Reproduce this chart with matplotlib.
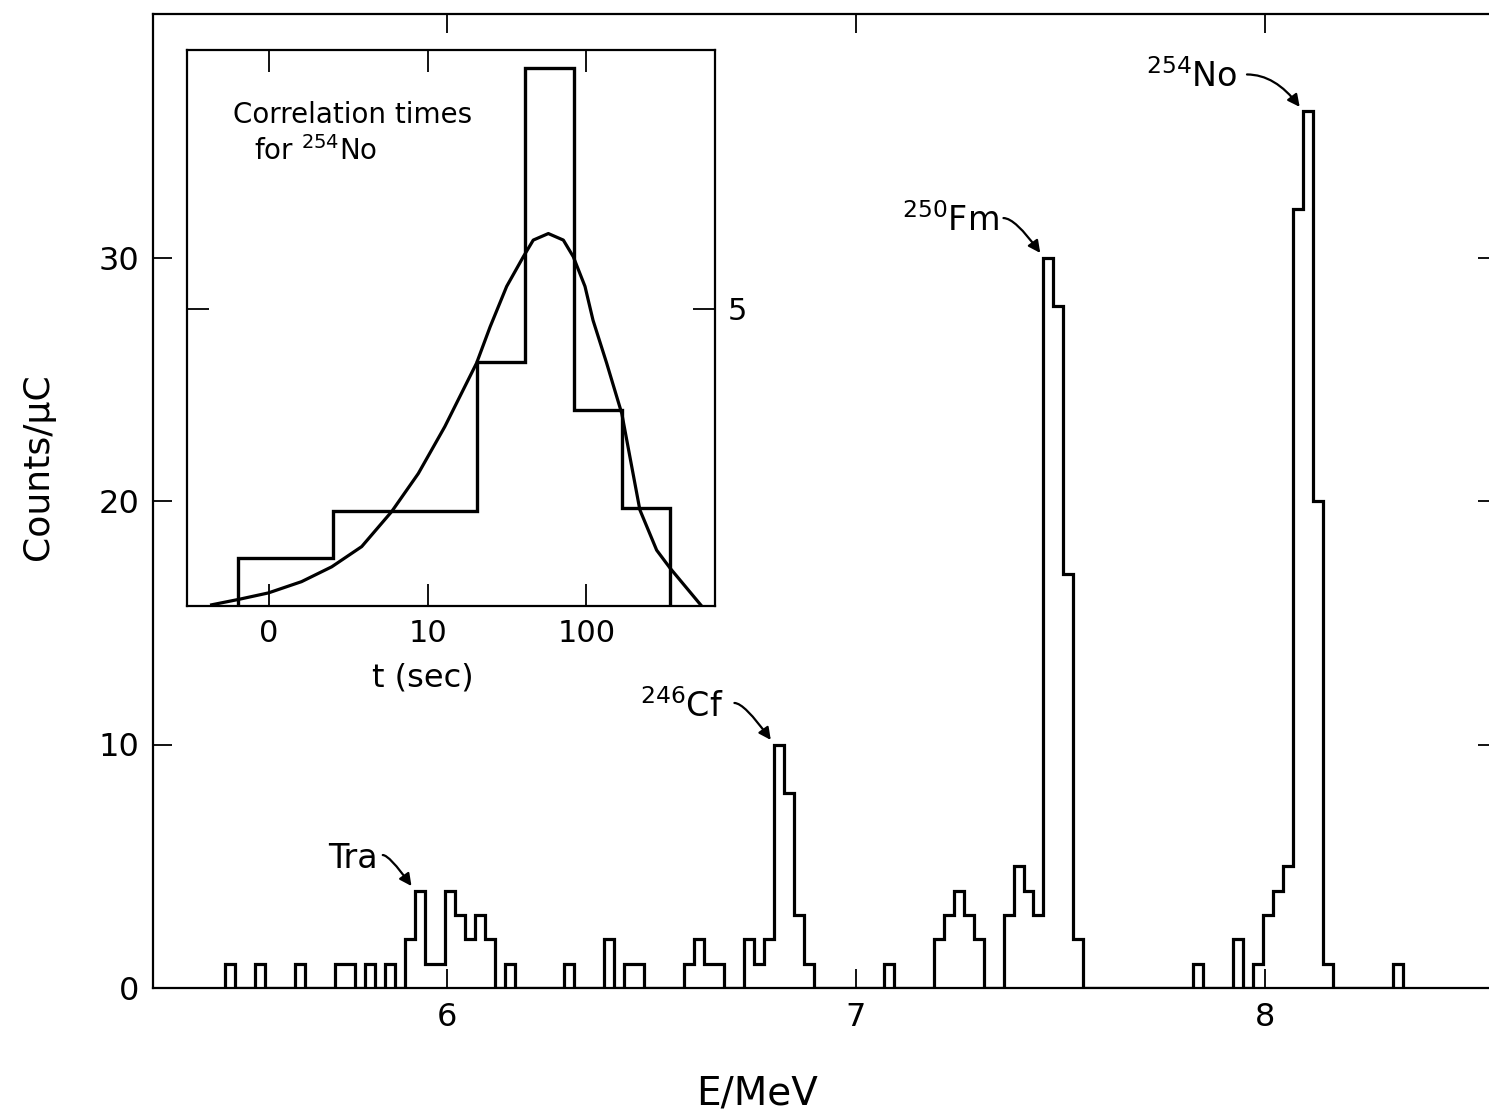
import numpy as np
import matplotlib.pyplot as plt
from matplotlib.ticker import NullLocator

plt.rcParams["font.family"] = ["DejaVu Sans"]

# --------------------------------------------
# Alpha spectrum (counts per channel)
# --------------------------------------------

channel_start = 5.4574   # MeV, left edge of first channel
channel_width = 0.0244   # MeV per channel

counts = [
    1, 0, 0, 1, 0, 0, 0, 1, 0, 0,
    0, 1, 1, 0, 1, 0, 1, 0, 2, 4,
    1, 1, 4, 3, 2, 3, 2, 0, 1, 0,
    0, 0, 0, 0, 1, 0, 0, 0, 2, 0,
    1, 1, 0, 0, 0, 0, 1, 2, 1, 1,
    0, 0, 2, 1, 2, 10, 8, 3, 1, 0,
    0, 0, 0, 0, 0, 0, 1, 0, 0, 0,
    0, 2, 3, 4, 3, 2, 0, 0, 3, 5,
    4, 3, 30, 28, 17, 2, 0, 0, 0, 0,
    0, 0, 0, 0, 0, 0, 0, 1, 0, 0,
    0, 2, 0, 1, 3, 4, 5, 32, 36, 20,
    1, 0, 0, 0, 0, 0, 0, 1,
]

peak_labels = ["Tra", "$^{246}$Cf", "$^{250}$Fm", "$^{254}$No"]
peak_energy = [5.933, 6.811, 7.470, 8.105]

# arrow tail and label offsets (points) from the marked channel corner
arrow_offset = [(-23.0, 25.6), (-28.5, 29.9), (-28.8, 28.4), (-40.3, 26.6)]
text_offset = [(-26.6, 16.3), (-36.4, 20.0), (-32.4, 19.1), (-46.8, 17.3)]

# --------------------------------------------
# Inset: correlation times for 254No
# --------------------------------------------

inset_edges = [0.639, 2.52, 20.3, 41.0, 83.0, 167, 336]
inset_counts = [0.8, 1.6, 4.1, 9.05, 3.3, 1.65]

curve_t = [0.434, 0.639, 0.988, 1.60, 2.48, 3.83, 5.92, 8.71, 12.8, 20.3,
           24.7, 31.4, 40.0, 46.2, 57.5, 71.5, 82.6, 97.9, 110, 134,
           167, 217, 277, 336, 532]
curve_y = [0.02, 0.11, 0.22, 0.41, 0.66, 1.00, 1.59, 2.23, 3.02, 4.09,
           4.70, 5.38, 5.88, 6.16, 6.27, 6.16, 5.88, 5.38, 4.81, 4.09,
           3.24, 1.62, 0.94, 0.64, 0.0]

# --------------------------------------------
# Main spectrum
# --------------------------------------------

fig = plt.figure(figsize=(14.89, 11.17), dpi=100)

ax = fig.add_axes([153 / 1489, 129 / 1117, 1344 / 1489, 974 / 1117])

edges = channel_start + channel_width * np.arange(len(counts) + 1)

ax.stairs(counts, edges, baseline=0, color="black", linewidth=2.3)

ax.set_xlim(5.2812, 8.567)
ax.set_ylim(0, 40)

ax.set_xticks([6, 7, 8])
ax.set_yticks([0, 10, 20, 30])

ax.tick_params(direction="in", length=14, width=1.3, top=True, right=True,
               labelsize=23, pad=10)

for s in ax.spines.values():
    s.set_linewidth(1.6)

ax.set_xlabel("E/MeV", fontsize=28)
ax.xaxis.set_label_coords(0.4494, -0.0893)

ax.set_ylabel("Counts/\u03bcC", fontsize=26)
ax.yaxis.set_label_coords(-0.0729, 0.535)

# peak labels with arrows
for lab, e, aoff, toff in zip(peak_labels, peak_energy, arrow_offset, text_offset):
    i = int((e - channel_start) / channel_width)
    corner = (edges[i], counts[i])
    ax.annotate("", xy=corner, xytext=aoff, textcoords="offset points",
                arrowprops=dict(arrowstyle="-|>", color="black", lw=1.6,
                                mutation_scale=18, shrinkA=0, shrinkB=4,
                                connectionstyle="angle3,angleA=0,angleB=-55"))
    ax.annotate(lab, xy=corner, xytext=toff, textcoords="offset points",
                ha="right", va="baseline", fontsize=24)

# --------------------------------------------
# Inset
# --------------------------------------------

axin = fig.add_axes([187 / 1489, (1117 - 606) / 1117, 528 / 1489, 556 / 1117])

axin.stairs(inset_counts, inset_edges, baseline=0, color="black", linewidth=2.4)
axin.plot(curve_t, curve_y, color="black", linewidth=2.3)

axin.set_xscale("log")
axin.set_xlim(0.3034, 646)
axin.set_ylim(0, 9.36)

axin.set_xticks([1, 10, 100])
axin.set_xticklabels(["0", "10", "100"])
axin.xaxis.set_minor_locator(NullLocator())
axin.set_yticks([5])

axin.tick_params(direction="in", length=16, width=1.3, top=True, right=True,
                 labelleft=False, labelright=True, labelsize=22, pad=9)

for s in axin.spines.values():
    s.set_linewidth(1.6)

axin.set_xlabel("t (sec)", fontsize=23)
axin.xaxis.set_label_coords(0.447, -0.1025)

axin.text(0.0871, 0.8687, "Correlation times", transform=axin.transAxes,
          fontsize=20, ha="left", va="baseline")
axin.text(0.126, 0.802, "for $^{254}$No", transform=axin.transAxes,
          fontsize=20, ha="left", va="baseline")

plt.savefig("out.png", dpi=100)
plt.close()
